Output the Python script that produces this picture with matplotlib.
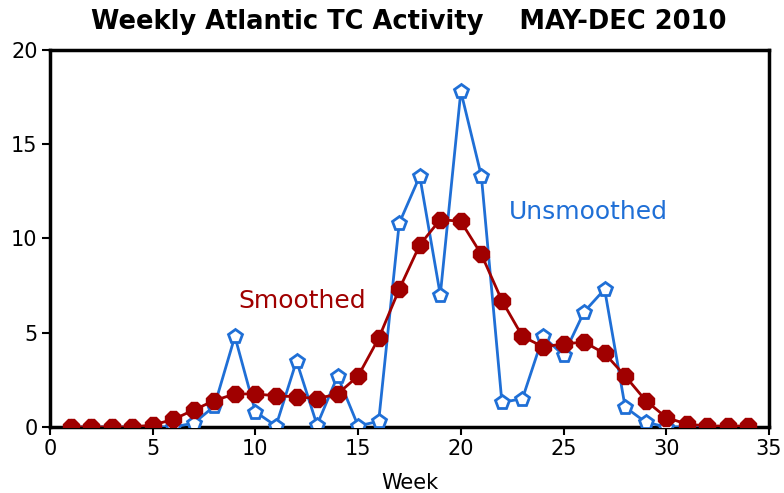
import matplotlib
matplotlib.use("Agg")
import matplotlib.pyplot as plt

weeks = list(range(1, 35))
unsmoothed = [0, 0, 0, 0, 0, 0, 0.2, 1.1, 4.8, 0.8, 0.05, 3.5, 0.1, 2.7, 0.05, 0.3,
              10.8, 13.3, 7.0, 17.8, 13.3, 1.3, 1.5, 4.8, 3.8, 6.1, 7.3, 1.05, 0.25,
              0, 0, 0, 0, 0]
smoothed = [0, 0, 0, 0, 0.1, 0.4, 0.9, 1.4, 1.75, 1.75, 1.65, 1.6, 1.5, 1.75, 2.7, 4.7,
            7.3, 9.65, 11.0, 10.9, 9.15, 6.7, 4.8, 4.25, 4.4, 4.5, 3.9, 2.7, 1.4,
            0.5, 0.15, 0.05, 0.05, 0.05]
xticks = [0, 5, 10, 15, 20, 25, 30, 35]
yticks = [0, 5, 10, 15, 20]

blue = "#1f6fd6"
red = "#a00000"

fig = plt.figure(figsize=(7.84, 4.93), dpi=100)
ax = fig.add_axes([0.0638, 0.134, 0.917, 0.765])

ax.plot(weeks, unsmoothed, color=blue, lw=2, marker="p", ms=10,
        mfc="white", mec=blue, mew=2, zorder=3)
ax.plot(weeks, smoothed, color=red, lw=2, marker="8", ms=12,
        mfc=red, mec=red, zorder=4)

ax.set_xlim(0, 35)
ax.set_ylim(0, 20)
ax.set_xticks(xticks)
ax.set_yticks(yticks)
ax.tick_params(direction="out", length=6, width=1.5, labelsize=15, pad=3)
for s in ax.spines.values():
    s.set_linewidth(2.5)

ax.set_xlabel("Week", fontsize=15, labelpad=10)
fig.text(0.522, 0.955, "Weekly Atlantic TC Activity    MAY-DEC 2010",
         ha="center", va="center", fontsize=18.5, fontweight="bold")
ax.text(12.3, 6.7, "Smoothed", color=red, fontsize=18, ha="center", va="center")
ax.text(26.2, 11.4, "Unsmoothed", color=blue, fontsize=18, ha="center", va="center")

fig.savefig("out.png", dpi=100)
